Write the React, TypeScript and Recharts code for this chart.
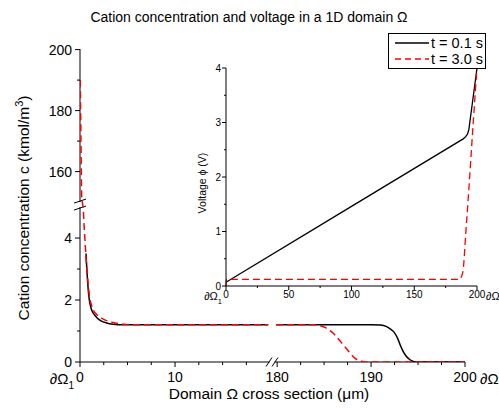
import React from 'react';
import { LineChart, Line, XAxis, YAxis, Customized } from 'recharts';

const W = 499;
const H = 412;
const FONT = 'Arial, "Liberation Sans", Helvetica, sans-serif';

// ── Data ─────────────────────────────────────────────────────────────────────
// cation concentration c (kmol/m3) against position (µm)
const C_X_01 = [0.63, 0.72, 0.82, 0.98, 1.2, 1.45, 1.8, 2.2, 2.8, 3.5, 4.5, 8, 12, 16, 19.8,
  179.9, 185, 190, 191, 191.6, 192, 192.4, 192.8, 193.1, 193.4, 193.7, 194.1, 194.5, 195, 200];
const C_Y_01 = [3.5, 3.0, 2.5, 2.0, 1.7, 1.55, 1.42, 1.33, 1.26, 1.22, 1.2, 1.2, 1.2, 1.2, 1.2,
  1.2, 1.2, 1.2, 1.19, 1.15, 1.08, 0.98, 0.78, 0.55, 0.35, 0.2, 0.08, 0.02, 0, 0];
const C_X_30 = [0.03, 0.1, 0.18, 0.35, 0.45, 0.55, 0.65, 0.75, 0.9, 1.0, 1.2, 1.4, 1.7, 2.1, 2.6, 3.2, 4, 5, 6, 10, 15, 19.8,
  179.9, 184, 184.6, 185.2, 185.6, 186.0, 186.5, 187.05, 187.6, 188.1, 188.6, 189.2, 190, 195, 200];
const C_Y_30 = [190, 170, 152, 4.9, 4.3, 3.8, 3.3, 2.87, 2.4, 2.1, 1.85, 1.68, 1.55, 1.45, 1.36, 1.3, 1.24, 1.21, 1.2, 1.2, 1.2, 1.2,
  1.2, 1.2, 1.17, 1.1, 1.02, 0.92, 0.75, 0.55, 0.35, 0.17, 0.06, 0.01, 0, 0, 0];

// voltage phi (V) against position (µm), inset
const V_X_01 = [0, 100, 189, 191, 192.5, 193.5, 196.8, 200];
const V_Y_01 = [0.07, 1.46, 2.7, 2.74, 2.79, 2.87, 3.44, 4.0];
const V_X_30 = [0, 0.4, 186, 187.5, 189, 191, 193, 195, 197, 200];
const V_Y_30 = [0, 0.12, 0.12, 0.17, 0.3, 0.95, 1.6, 2.3, 3.0, 4.0];

// ticks
const X_TICKS = [0, 2.5, 5, 7.5, 10, 12.5, 15, 17.5, 180, 182.5, 185, 187.5, 190, 192.5, 195, 197.5, 200];
const X_LABELS = [0, 10, 180, 190, 200];
const Y_TICKS = [0, 1, 2, 3, 4, 160, 170, 180, 190, 200];
const Y_LABELS = [0, 2, 4, 160, 180, 200];
const V_X_TICKS = [0, 25, 50, 75, 100, 125, 150, 175, 200];
const V_X_LABELS = [0, 50, 100, 150, 200];
const V_Y_TICKS = [0, 0.5, 1, 1.5, 2, 2.5, 3, 3.5, 4];
const V_Y_LABELS = [0, 1, 2, 3, 4];

// ── Broken axes: real value -> display value ─────────────────────────────────
const X_BREAK = 20.2;
const toXd = (x: number) => (x <= X_BREAK ? x : 20.74 + (x - 180) * 0.988);
const toYd = (y: number) => (y <= 5 ? y : 5.16 + (y - 150) * 0.0984);
const X_MAX_D = 40.5;
const Y_MAX_D = 10.1;

const MAIN = { left: 80, right: 465, top: 49, bottom: 362 };
const pxX = (xd: number) => MAIN.left + (xd * (MAIN.right - MAIN.left)) / X_MAX_D;
const pxY = (yd: number) => MAIN.bottom - (yd * (MAIN.bottom - MAIN.top)) / Y_MAX_D;

function buildConc(xs: number[], ys: number[]) {
  const rows: { xd: number; yd: number | null }[] = [];
  xs.forEach((x, i) => {
    if (i > 0 && xs[i - 1] <= X_BREAK && x > X_BREAK) rows.push({ xd: X_BREAK, yd: null });
    rows.push({ xd: toXd(x), yd: toYd(ys[i]) });
  });
  return rows;
}

const zip = (xs: number[], ys: number[]) => xs.map((x, i) => ({ x, v: ys[i] }));

const conc01 = buildConc(C_X_01, C_Y_01);
const conc30 = buildConc(C_X_30, C_Y_30);
const volt01 = zip(V_X_01, V_Y_01);
const volt30 = zip(V_X_30, V_Y_30);

const near = (a: number, b: number) => Math.abs(a - b) < 1e-6;

// ── Tick renderers ───────────────────────────────────────────────────────────
function MainXTick(props: any) {
  const { x, y, payload } = props;
  const t = X_TICKS.find((v) => near(toXd(v), payload.value));
  if (t == null) return null;
  const major = X_LABELS.includes(t);
  return (
    <g>
      <line x1={x} x2={x} y1={y} y2={y + (major ? 5 : 3)} stroke="#000" strokeWidth={1} />
      {major && (
        <text x={x} y={y + 20} textAnchor="middle" fontSize={14} fontFamily={FONT} fill="#000">
          {t}
        </text>
      )}
      {t === 0 && (
        <text x={x - 6} y={y + 22} textAnchor="end" fontSize={15} fontFamily={FONT} fill="#000">
          ∂Ω<tspan fontSize={10} dy={5}>1</tspan>
        </text>
      )}
      {t === 200 && (
        <text x={x + 15} y={y + 22} textAnchor="start" fontSize={15} fontFamily={FONT} fill="#000">
          ∂Ω<tspan fontSize={10} dy={5}>2</tspan>
        </text>
      )}
    </g>
  );
}

function MainYTick(props: any) {
  const { x, y, payload } = props;
  const t = Y_TICKS.find((v) => near(toYd(v), payload.value));
  if (t == null) return null;
  const major = Y_LABELS.includes(t);
  return (
    <g>
      <line x1={x - (major ? 5 : 3)} x2={x} y1={y} y2={y} stroke="#000" strokeWidth={1} />
      {major && (
        <text x={x - 8} y={y + 5} textAnchor="end" fontSize={14} fontFamily={FONT} fill="#000">
          {t}
        </text>
      )}
    </g>
  );
}

function InsetXTick(props: any) {
  const { x, y, payload } = props;
  const t = payload.value as number;
  const major = V_X_LABELS.includes(t);
  return (
    <g>
      <line x1={x} x2={x} y1={y} y2={y + (major ? 4 : 2)} stroke="#000" strokeWidth={1} />
      {major && (
        <text x={x} y={y + 12} textAnchor="middle" fontSize={10} fontFamily={FONT} fill="#000">
          {t}
        </text>
      )}
      {t === 0 && (
        <text x={x - 4} y={y + 14} textAnchor="end" fontSize={11} fontFamily={FONT} fill="#000">
          ∂Ω<tspan fontSize={7.5} dy={4}>1</tspan>
        </text>
      )}
      {t === 200 && (
        <text x={x + 9} y={y + 14} textAnchor="start" fontSize={11} fontFamily={FONT} fill="#000">
          ∂Ω<tspan fontSize={7.5} dy={4}>2</tspan>
        </text>
      )}
    </g>
  );
}

function InsetYTick(props: any) {
  const { x, y, payload } = props;
  const t = payload.value as number;
  const major = V_Y_LABELS.includes(t);
  return (
    <g>
      <line x1={x - (major ? 4 : 2)} x2={x} y1={y} y2={y} stroke="#000" strokeWidth={1} />
      {major && (
        <text x={x - 5} y={y + 3.5} textAnchor="end" fontSize={10} fontFamily={FONT} fill="#000">
          {t}
        </text>
      )}
    </g>
  );
}

// ── Axis lines with break marks, titles ──────────────────────────────────────
function MainFrame() {
  const bx = pxX(X_BREAK);
  const yLo = pxY(5);
  const yHi = pxY(5.16);
  return (
    <g>
      {/* x axis, broken */}
      <line x1={MAIN.left} x2={bx - 2.5} y1={MAIN.bottom} y2={MAIN.bottom} stroke="#000" />
      <line x1={bx + 2.5} x2={MAIN.right} y1={MAIN.bottom} y2={MAIN.bottom} stroke="#000" />
      <line x1={bx - 6} y1={MAIN.bottom + 4.5} x2={bx} y2={MAIN.bottom - 4.5} stroke="#000" />
      <line x1={bx} y1={MAIN.bottom + 4.5} x2={bx + 6} y2={MAIN.bottom - 4.5} stroke="#000" />
      {/* y axis, broken */}
      <line x1={MAIN.left} x2={MAIN.left} y1={MAIN.bottom} y2={yLo} stroke="#000" />
      <line x1={MAIN.left} x2={MAIN.left} y1={yHi} y2={MAIN.top} stroke="#000" />
      <line x1={MAIN.left - 6} y1={yLo + 3} x2={MAIN.left + 6} y2={yLo - 1} stroke="#000" />
      <line x1={MAIN.left - 6} y1={yHi + 1} x2={MAIN.left + 6} y2={yHi - 3} stroke="#000" />
      {/* titles */}
      <text x={249} y={22} textAnchor="middle" fontSize={14} fontFamily={FONT} fill="#000">
        Cation concentration and voltage in a 1D domain Ω
      </text>
      <text x={269} y={399} textAnchor="middle" fontSize={15.5} fontFamily={FONT} fill="#000">
        Domain Ω cross section (μm)
      </text>
      <text
        transform="translate(29,208) rotate(-90)"
        textAnchor="middle"
        fontSize={15.5}
        fontFamily={FONT}
        fill="#000"
      >
        Cation concentration c (kmol/m<tspan fontSize={11} dy={-6}>3</tspan>
        <tspan dy={6}>)</tspan>
      </text>
    </g>
  );
}

function InsetTitle() {
  return (
    <text
      transform="translate(206,183) rotate(-90)"
      textAnchor="middle"
      fontSize={10.5}
      fontFamily={FONT}
      fill="#000"
    >
      Voltage ϕ (V)
    </text>
  );
}

export default function App() {
  return (
    <div style={{ position: 'absolute', left: 0, top: 0, width: W, height: H, background: '#fff' }}>
      <div style={{ position: 'absolute', left: 0, top: 0 }}>
        <LineChart width={W} height={H} margin={{ top: MAIN.top, right: W - MAIN.right, bottom: 0, left: 0 }}>
          <XAxis
            type="number"
            dataKey="xd"
            domain={[0, X_MAX_D]}
            ticks={X_TICKS.map(toXd)}
            interval={0}
            tickSize={0}
            tickMargin={0}
            tick={(p: any) => <MainXTick {...p} />}
            axisLine={false}
            height={H - MAIN.bottom}
            allowDataOverflow
          />
          <YAxis
            type="number"
            domain={[0, Y_MAX_D]}
            ticks={Y_TICKS.map(toYd)}
            interval={0}
            tickSize={0}
            tickMargin={0}
            tick={(p: any) => <MainYTick {...p} />}
            axisLine={false}
            width={MAIN.left}
            allowDataOverflow
          />
          <Customized component={<MainFrame />} />
          <Line
            data={conc01}
            dataKey="yd"
            type="monotone"
            stroke="#000"
            strokeWidth={1.5}
            dot={false}
            isAnimationActive={false}
          />
          <Line
            data={conc30}
            dataKey="yd"
            type="monotone"
            stroke="#ff0000"
            strokeWidth={1.5}
            strokeDasharray="7 4"
            dot={false}
            isAnimationActive={false}
          />
        </LineChart>
      </div>

      <div style={{ position: 'absolute', left: 0, top: 0 }}>
        <LineChart width={W} height={H} margin={{ top: 68, right: W - 477, bottom: 0, left: 0 }}>
          <XAxis
            type="number"
            dataKey="x"
            domain={[0, 200]}
            ticks={V_X_TICKS}
            interval={0}
            tickSize={0}
            tickMargin={0}
            tick={(p: any) => <InsetXTick {...p} />}
            axisLine={{ stroke: '#000' }}
            height={H - 286}
          />
          <YAxis
            type="number"
            domain={[0, 4]}
            ticks={V_Y_TICKS}
            interval={0}
            tickSize={0}
            tickMargin={0}
            tick={(p: any) => <InsetYTick {...p} />}
            axisLine={{ stroke: '#000' }}
            width={226}
          />
          <Customized component={<InsetTitle />} />
          <Line
            data={volt01}
            dataKey="v"
            type="linear"
            stroke="#000"
            strokeWidth={1.3}
            dot={false}
            isAnimationActive={false}
          />
          <Line
            data={volt30}
            dataKey="v"
            type="monotone"
            stroke="#ff0000"
            strokeWidth={1.3}
            strokeDasharray="7 4"
            dot={false}
            isAnimationActive={false}
          />
        </LineChart>
      </div>

      <div
        style={{
          position: 'absolute',
          left: 388,
          top: 33,
          width: 96,
          height: 34,
          border: '1px solid #000',
          background: '#fff',
          fontFamily: FONT,
          color: '#000',
        }}
      >
        <svg width={96} height={34} style={{ display: 'block' }}>
          <line x1={6} x2={40} y1={9} y2={9} stroke="#000" strokeWidth={1.5} />
          <text x={42} y={14} fontSize={14.5} fontFamily={FONT}>t = 0.1 s</text>
          <line x1={6} x2={40} y1={25} y2={25} stroke="#ff0000" strokeWidth={1.5} strokeDasharray="6 4" />
          <text x={42} y={30} fontSize={14.5} fontFamily={FONT}>t = 3.0 s</text>
        </svg>
      </div>
    </div>
  );
}
